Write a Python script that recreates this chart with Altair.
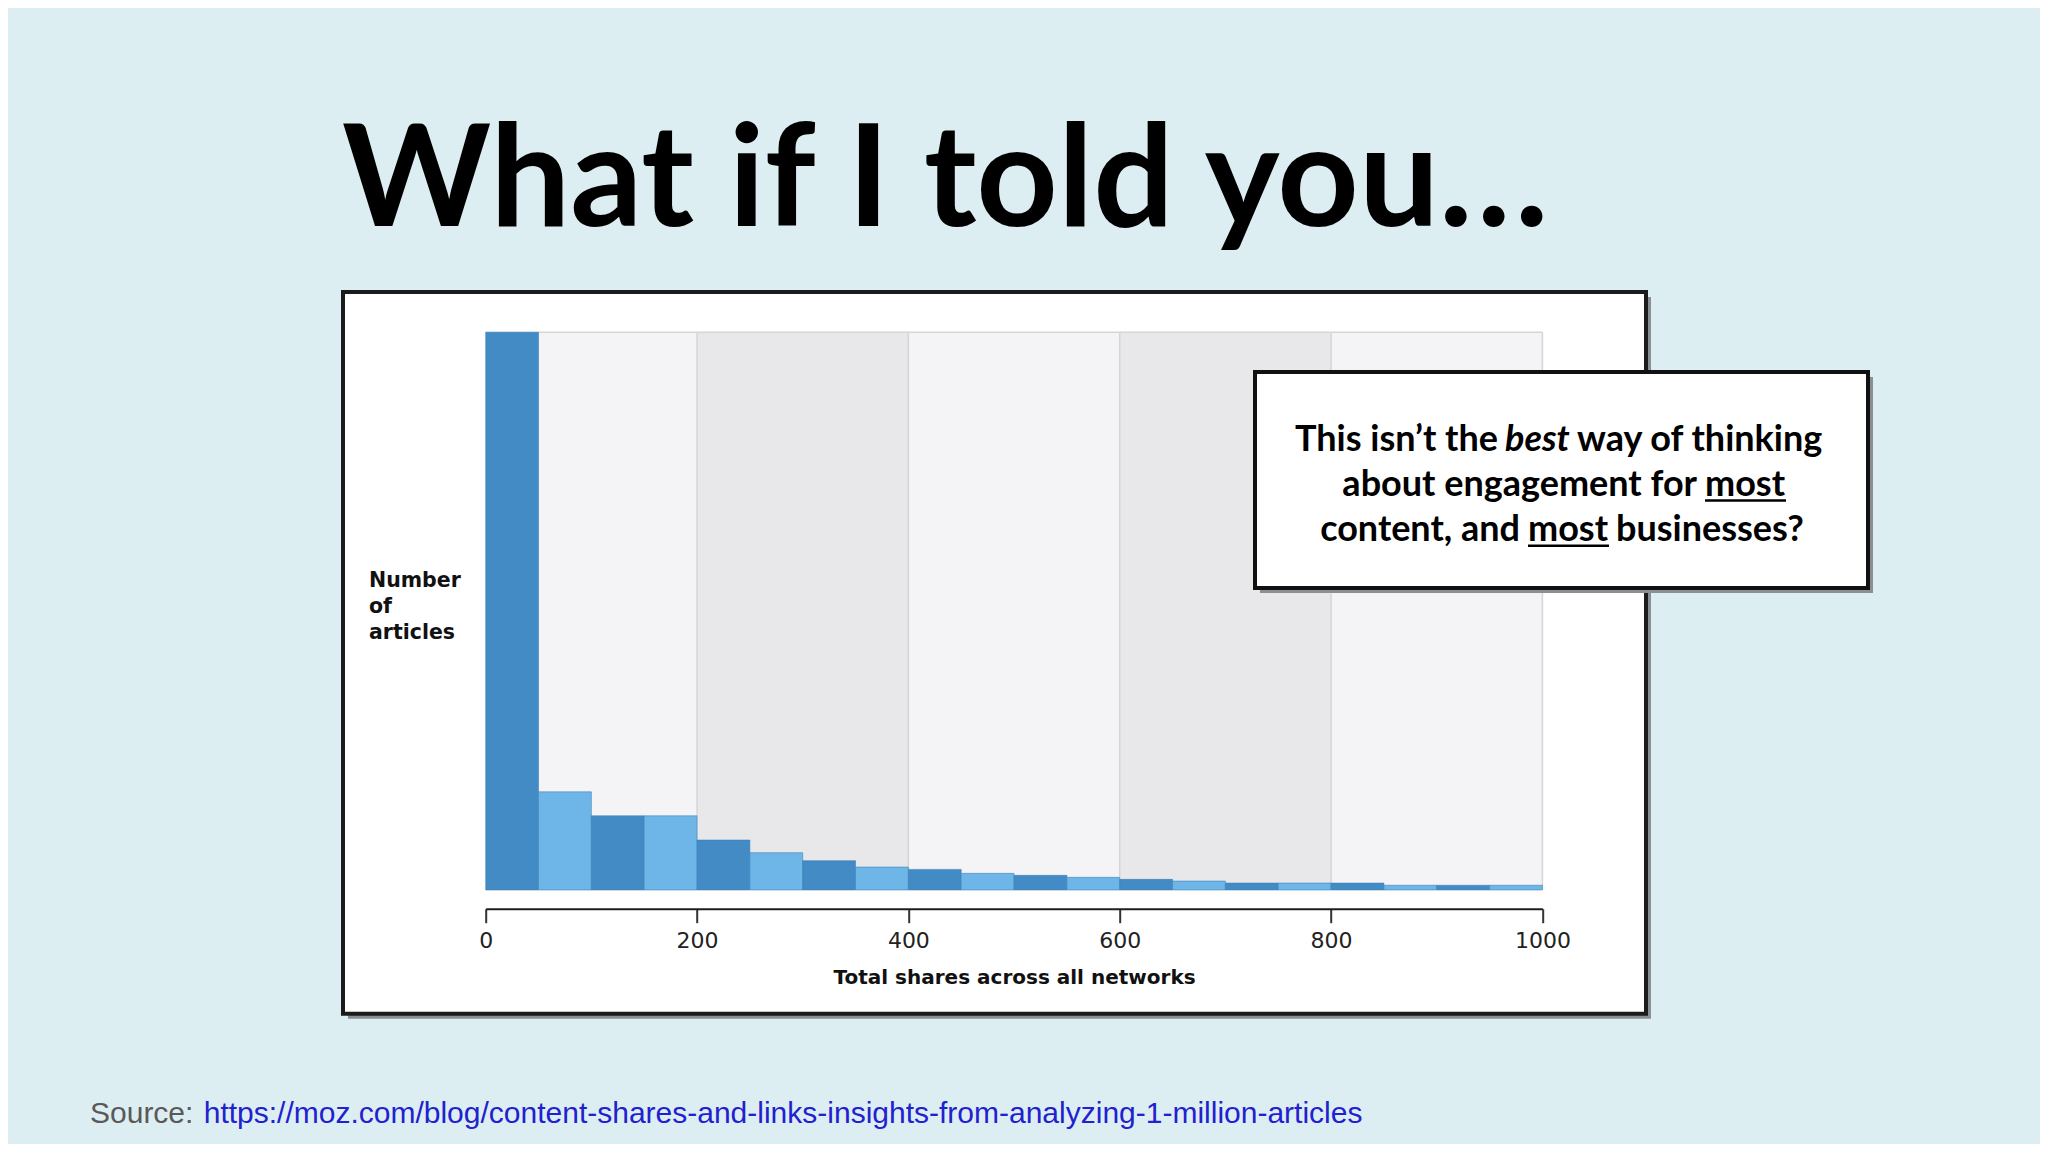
import altair as alt
import pandas as pd

# ---- data ----
bin_starts = [0, 50, 100, 150, 200, 250, 300, 350, 400, 450,
              500, 550, 600, 650, 700, 750, 800, 850, 900, 950]
bin_width = 50
articles = [530, 93.3, 70.5, 70.5, 47.5, 35.5, 27.9, 21.8, 19.6, 15.8,
            13.9, 12.0, 10.1, 8.5, 6.6, 6.6, 6.6, 4.5, 4.5, 4.5]
tick_values = [0, 200, 400, 600, 800, 1000]
band_starts = [0, 200, 400, 600, 800]

title_text = "What if I told you…"
y_label_lines = ["Number", "of", "articles"]
x_title = "Total shares across all networks"
source_label = "Source:"
source_url = "https://moz.com/blog/content-shares-and-links-insights-from-analyzing-1-million-articles"

# ---- geometry (page pixels -> view pixels) ----
PX0, PY0 = 485.7, 332.3          # page position of the plot origin
W, H = 1056.7, 557.7              # plot area size
SVG_W, SVG_H = 2032, 1136
pad = {"left": PX0 - 8, "top": PY0 - 8,
       "right": SVG_W - (PX0 - 8) - W, "bottom": SVG_H - (PY0 - 8) - H}


def vx(px):
    return px - PX0


def vy(py):
    return py - PY0


one = pd.DataFrame({"k": [0]})
xscale = alt.Scale(domain=[0, 1000], nice=False, zero=False)
yscale = alt.Scale(domain=[0, max(articles)], nice=False)

x_axis = alt.Axis(values=tick_values, title=x_title, grid=False, zindex=5,
                  format="d",
                  offset=18.7, domainColor="#1e1e1e", domainWidth=2,
                  tickColor="#333333", tickWidth=2, tickSize=14,
                  labelFont="DejaVu Sans", labelFontSize=22,
                  labelColor="#222222", labelPadding=8,
                  labelFlush=False, labelOverlap=False,
                  titleFont="DejaVu Sans", titleFontWeight="bold",
                  titleFontSize=20, titleColor="#111111",
                  titleBaseline="middle", titleY=68.3)

bins = pd.DataFrame({"start": bin_starts, "count": articles})
bands = pd.DataFrame({"start": band_starts})


def box(x1, y1, x2, y2, fill, stroke=None, sw=0):
    kw = dict(fill=fill, strokeWidth=sw)
    if stroke:
        kw["stroke"] = stroke
    return alt.Chart(one).mark_rect(**kw).encode(
        x=alt.value(vx(x1)), x2=alt.value(vx(x2)),
        y=alt.value(vy(y1)), y2=alt.value(vy(y2)))


def text(px, py, s, font, size, weight="normal", style="normal",
         color="#000000", align="left", baseline="alphabetic"):
    return alt.Chart(one).mark_text(
        text=s, font=font, fontSize=size, fontWeight=weight, fontStyle=style,
        color=color, align=align, baseline=baseline).encode(
        x=alt.value(vx(px)), y=alt.value(vy(py)))


def hline(x1, x2, py, color, sw):
    return alt.Chart(one).mark_rule(color=color, strokeWidth=sw).encode(
        x=alt.value(vx(x1)), x2=alt.value(vx(x2)), y=alt.value(vy(py)))


# outer chart frame with shadow
frame_shadow = box(348, 297, 1651, 1018.7, "#8a8f93")
frame = box(343, 292, 1646, 1013.7, "#ffffff", "#1b1b1b", 4)

# alternating background bands
band_layer = alt.Chart(bands).transform_calculate(
    end="datum.start + 200",
    shade="'s' + ((datum.start / 200) % 2)"
).mark_rect().encode(
    x=alt.X("start:Q", scale=xscale, axis=x_axis),
    x2="end:Q",
    y=alt.value(0), y2=alt.value(H),
    color=alt.Color("shade:N", scale=alt.Scale(domain=["s0", "s1"],
                                              range=["#f4f4f6", "#e8e7ea"]),
                    legend=None)
)

grid_layer = alt.Chart(pd.DataFrame({"start": tick_values[1:]})).mark_rule(
    color="#d5d5d8", strokeWidth=1.5).encode(
    x=alt.X("start:Q", scale=xscale, axis=x_axis),
    y=alt.value(0), y2=alt.value(H))

top_border = alt.Chart(one).mark_rule(color="#d5d5da", strokeWidth=1.5).encode(
    x=alt.value(0), x2=alt.value(W), y=alt.value(0))

bars = alt.Chart(bins).transform_calculate(
    end=f"datum.start + {bin_width}",
    zero="0",
    parity="'p' + ((datum.start / {}) % 2)".format(bin_width)
).mark_rect(stroke="#3b7fb9", strokeWidth=0.8, strokeOpacity=0.7).encode(
    x=alt.X("start:Q", scale=xscale, axis=x_axis),
    x2="end:Q",
    y=alt.Y("count:Q", scale=yscale, axis=None),
    y2="zero:Q",
    color=alt.Color("parity:N", scale=alt.Scale(domain=["p0", "p1"],
                                               range=["#428bc5", "#6db6e7"]),
                    legend=None)
)

# y label (three lines)
ylab = [text(369, by, s, "DejaVu Sans", 20.5, weight="bold", color="#111111")
        for s, by in zip(y_label_lines, [587.3, 613.0, 638.5])]

# callout box
call_shadow = box(1260, 377, 1873, 593, "#8a8f93")
call_box = box(1255, 372, 1868, 588, "#ffffff", "#111111", 4)

CF = "Lato"
CS = 36
callout = [
    text(1498, 450.6, "This isn’t the", CF, CS, weight="bold", align="right"),
    text(1505, 450.6, "best", CF, CS, weight="bold", style="italic"),
    text(1577, 450.6, "way of thinking", CF, CS, weight="bold"),
    text(1697, 496.2, "about engagement for", CF, CS, weight="bold", align="right"),
    text(1705, 496.2, "most", CF, CS, weight="bold"),
    text(1520, 541.4, "content, and", CF, CS, weight="bold", align="right"),
    text(1528, 541.4, "most", CF, CS, weight="bold"),
    text(1616, 541.4, "businesses?", CF, CS, weight="bold"),
    hline(1705, 1786, 500.5, "#000000", 2.5),
    hline(1528, 1609, 545.7, "#000000", 2.5),
]

title = text(342, 226, title_text, "Lato", 142, weight="bold", color="#000000")

source = [
    text(90, 1123, source_label, "Liberation Sans", 30, color="#595959"),
    text(203.7, 1123, source_url, "Liberation Sans", 30, color="#2121cf"),
]

chart = alt.layer(
    frame_shadow, frame, band_layer, grid_layer, top_border, bars,
    *ylab, call_shadow, call_box, *callout, title, *source
).resolve_scale(color="independent").properties(
    width=W, height=H, padding=pad,
    autosize=alt.AutoSizeParams(type="none"),
    background="#ddeef3"
).configure_view(stroke=None)

chart.save("out.html", embed_options={"renderer": "svg", "actions": False})
